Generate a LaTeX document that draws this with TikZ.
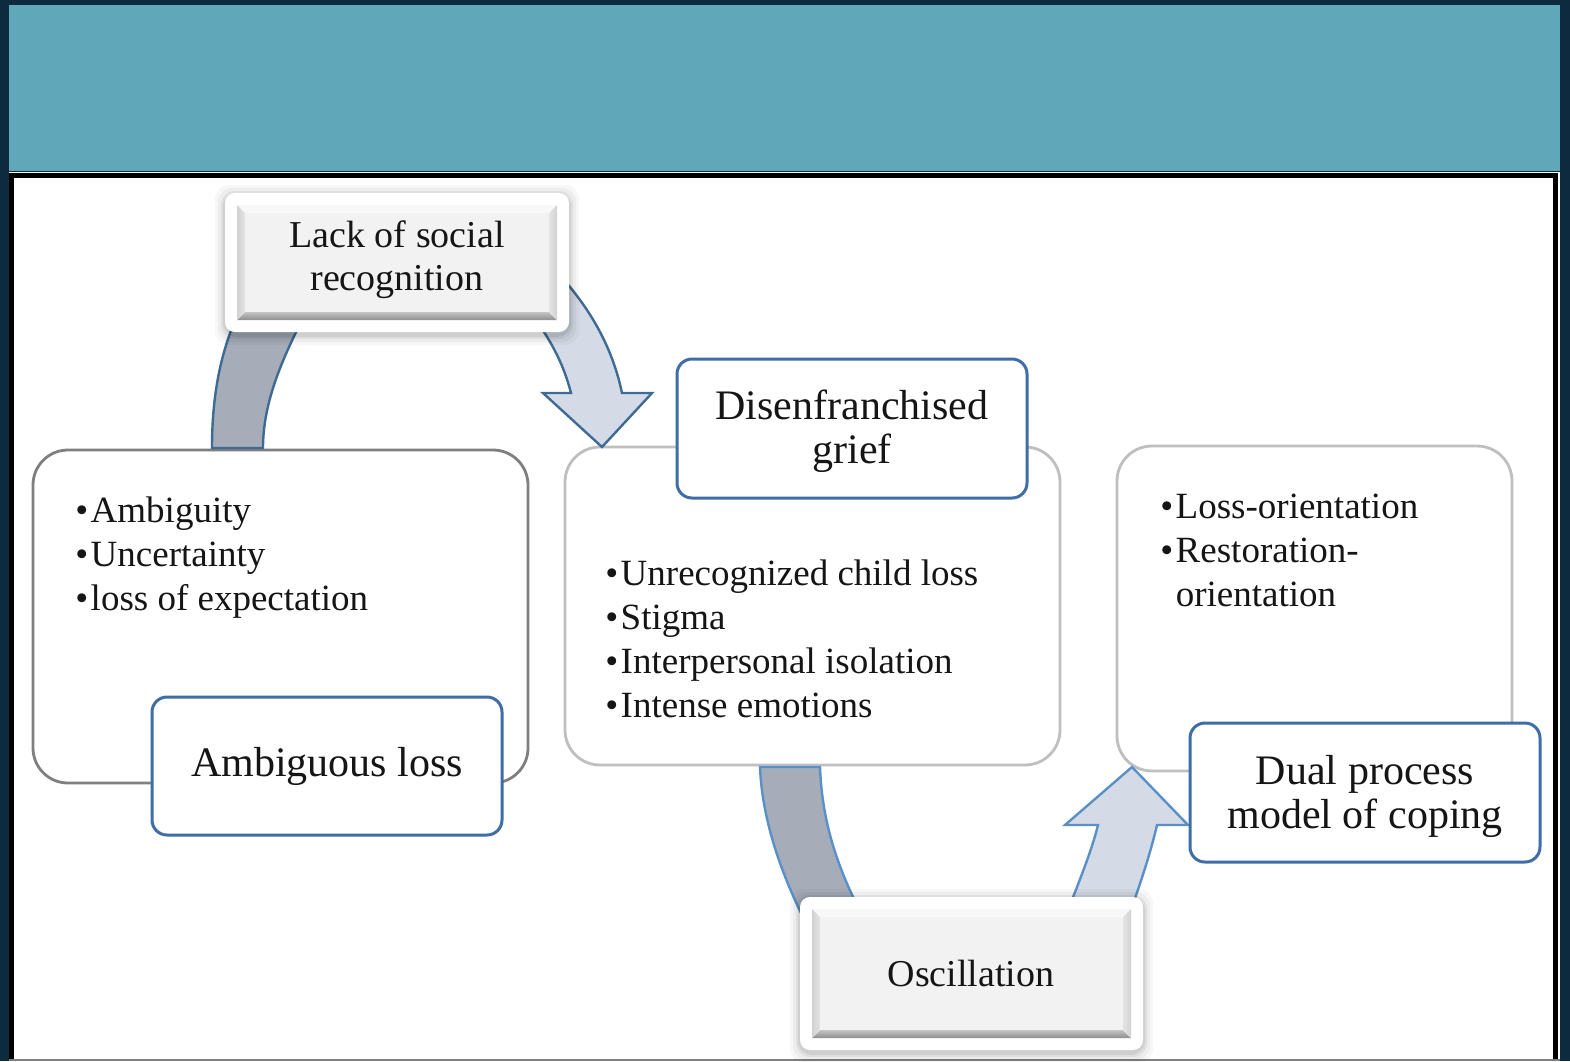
\documentclass[tikz,border=0pt]{standalone}
\usepackage{fontspec}
\setmainfont{Liberation Serif}
\usetikzlibrary{fit}
\definecolor{navy}{HTML}{0E2A3E}
\definecolor{tealband}{HTML}{61A7BA}
\definecolor{lblue}{HTML}{3F6DA6}
\definecolor{gbord}{HTML}{7F7F7F}
\definecolor{lbord}{HTML}{BFBFBF}
\definecolor{arrdark}{HTML}{A6ADB9}
\definecolor{arrlight}{HTML}{D5DBE6}
\definecolor{arrline}{HTML}{3D6B94}
\definecolor{arrlineb}{HTML}{5A90C8}
\definecolor{txt}{HTML}{151515}
\definecolor{bvtop}{HTML}{F8F8F8}
\definecolor{bvface}{HTML}{F2F2F2}
\definecolor{bvbotA}{HTML}{C4C4C4}
\definecolor{bvbotB}{HTML}{8E8E8E}
\definecolor{bvsideA}{HTML}{E4E4E4}
\definecolor{bvsideB}{HTML}{D2D2D2}
\newcommand\btnshape[4]{%
  \foreach \sh/\op in {10/0.03,7/0.04,4/0.06,2/0.07}{%
    \fill[black,opacity=\op,rounded corners=7pt] (#1-\sh,#2-\sh+2) rectangle (#3+\sh,#4+\sh+3);}
  \fill[white,rounded corners=5pt] (#1,#2) rectangle (#3,#4);
  \fill[bvtop] (#1+12,#2+12) -- (#3-12,#2+12) -- (#3-20,#2+20) -- (#1+20,#2+20) -- cycle;
  \shade[top color=bvbotA,bottom color=bvbotB] (#1+12,#4-12) -- (#3-12,#4-12) -- (#3-20,#4-20) -- (#1+20,#4-20) -- cycle;
  \shade[left color=bvsideB,right color=bvsideA] (#1+12,#2+12) -- (#1+20,#2+20) -- (#1+20,#4-20) -- (#1+12,#4-12) -- cycle;
  \shade[left color=bvsideA,right color=bvsideB] (#3-12,#2+12) -- (#3-20,#2+20) -- (#3-20,#4-20) -- (#3-12,#4-12) -- cycle;
  \fill[bvface] (#1+20,#2+20) rectangle (#3-20,#4-20);
}
\newcommand\bul{•\kern1.2pt}
\begin{document}
\begin{tikzpicture}[x=0.5pt,y=-0.5pt,
  bigbox/.style={fill=white, line width=1.4pt, rounded corners=17.5pt, inner sep=0pt},
  labelbox/.style={draw=lblue, line width=1.5pt, fill=white, rounded corners=7.5pt, inner sep=0pt},
  labeltext/.style={align=center, inner sep=0pt, text=txt, font=\fontsize{21}{22}\selectfont},
  btntext/.style={align=center, inner sep=0pt, text=txt, font=\fontsize{19}{21.5}\selectfont},
  bullets/.style={inner sep=0pt, anchor=base west, text=txt, font=\fontsize{18.5}{22}\selectfont},
  darrow/.style={fill=arrdark, draw=arrline, line width=1.2pt},
  larrow/.style={fill=arrlight, draw=arrline, line width=1.2pt},
  darrowb/.style={fill=arrdark, draw=arrlineb, line width=1.2pt},
  larrowb/.style={fill=arrlight, draw=arrlineb, line width=1.2pt}]
\useasboundingbox (0,0) rectangle (1570,1061);
% background
\fill[navy] (0,0) rectangle (1570,1061);
\fill[tealband] (9,5) rectangle (1560,171);
\fill[white] (9,172) rectangle (1560,1061);
\draw[black, line width=2.6pt] (11.6,1061) -- (11.6,175.6) -- (1555.4,175.6) -- (1555.4,1061);
\draw[gray, line width=0.8pt] (9,1060) -- (1560,1060);
% big boxes
\node[bigbox, draw=gbord, fit={(33,450)(528,783)}] (ambbox) {};
\node[bigbox, draw=lbord, fit={(565,447)(1060,765)}] (disbox) {};
\node[bigbox, draw=lbord, fit={(1117,446)(1512,771)}] (dualbox) {};
% block arrows
\draw[darrow] (212,448) .. controls (212,400) and (219,362) .. (232,328) -- (298,328) .. controls (280,365) and (263,405) .. (263,448) -- cycle;
\draw[larrow] (555,270) .. controls (588,305) and (612,345) .. (622,393) -- (652,393) -- (602,447) -- (543,393) -- (571,393) .. controls (563,362) and (550,338) .. (525,305) -- cycle;
\draw[darrowb] (760,767) -- (820,767) .. controls (822,820) and (836,865) .. (862,915) -- (815,940) .. controls (782,880) and (762,820) .. cycle;
\draw[larrowb] (1058,935) .. controls (1078,885) and (1092,850) .. (1098,825) -- (1065,825) -- (1132,767) -- (1188,825) -- (1157,825) .. controls (1150,855) and (1140,885) .. (1122,935) -- cycle;
% label boxes
\node[labelbox, fit={(152,697)(502,835)}] (amblabel) {};
\node[labelbox, fit={(677,359)(1027,498)}] (dislabel) {};
\node[labelbox, fit={(1190,723)(1540,862)}] (duallabel) {};
\node[labeltext] (ambtext) at (amblabel.center) {Ambiguous loss};
\node[labeltext] (distext) at (852,431) {Disenfranchised\\grief};
\node[labeltext] (dualtext) at (1365,796) {Dual process\\model of coping};
% bevel buttons
\btnshape{225}{193}{569}{332}
\node[inner sep=0pt, fit={(225,193)(569,332)}] (lackbtn) {};
\node[btntext] (lacktext) at (397,260) {Lack of social\\recognition};
\btnshape{800}{897}{1143}{1050}
\node[inner sep=0pt, fit={(800,897)(1143,1050)}] (oscbtn) {};
\node[btntext] (osctext) at (971,973) {Oscillation};
% bullet lists
\node[bullets] (ambbul) at (75,522) {\begin{tabular}[t]{@{}l@{}l@{}}\bul&Ambiguity\\\bul&Uncertainty\\\bul&loss of expectation\end{tabular}};
\node[bullets] (disbul) at (605,585) {\begin{tabular}[t]{@{}l@{}l@{}}\bul&Unrecognized child loss\\\bul&Stigma\\\bul&Interpersonal isolation\\\bul&Intense emotions\end{tabular}};
\node[bullets] (dualbul) at (1160,518) {\begin{tabular}[t]{@{}l@{}l@{}}\bul&Loss-orientation\\\bul&Restoration-\\&orientation\end{tabular}};
\end{tikzpicture}
\end{document}
